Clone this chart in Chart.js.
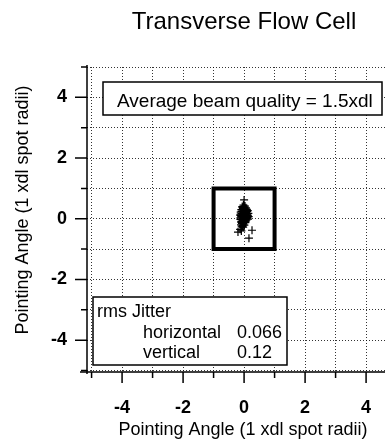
<!DOCTYPE html>
<html>
<head>
<meta charset="utf-8">
<script src="https://cdn.jsdelivr.net/npm/chart.js@4.4.0/dist/chart.umd.min.js"></script>
<style>
  html, body { margin: 0; padding: 0; background: #fff; }
</style>
</head>
<body>
<canvas id="scatter" width="385" height="440"></canvas>
<script>
// pointing jitter samples (xdl spot radii)
const jitterX = [0.00, -0.02, 0.03, -0.06, 0.01, 0.06, -0.04, -0.01,
  -0.09, 0.09, 0.00, 0.12, -0.05, 0.04, 0.02, -0.11, 0.07, -0.01, 0.14,
  -0.08, 0.03, 0.08, -0.11, -0.13, 0.10, -0.03, 0.06, 0.15, -0.10, -0.07,
  0.01, 0.11, -0.06, 0.09, 0.13, -0.12, 0.02, 0.05, -0.04, 0.06, -0.09,
  0.00, 0.04, -0.07, -0.02, -0.10, -0.05, -0.08, -0.03, -0.13, -0.20,
  -0.09, 0.26, 0.16,
  -0.05, 0.05, -0.08, 0.10, 0.00, -0.03, 0.07, -0.10, 0.12, -0.06,
  0.03, 0.08, -0.02, -0.09, 0.04, 0.11, -0.12, 0.01, -0.05, 0.06];
const jitterY = [0.62, 0.45, 0.42, 0.40, 0.38, 0.36, 0.34, 0.34,
  0.30, 0.31, 0.30, 0.27, 0.26, 0.25, 0.27, 0.22, 0.21, 0.20, 0.18,
  0.17, 0.16, 0.19, 0.15, 0.12, 0.13, 0.11, 0.09, 0.07, 0.06, 0.08,
  0.05, 0.04, 0.02, 0.01, -0.01, -0.02, -0.03, -0.01, -0.06, -0.07, -0.09,
  -0.11, -0.13, -0.15, -0.18, -0.20, -0.23, -0.27, -0.28, -0.35, -0.44,
  -0.40, -0.38, -0.64,
  0.37, 0.33, 0.24, 0.24, 0.22, 0.14, 0.13, 0.10, 0.10, -0.04,
  0.07, -0.04, 0.01, -0.12, -0.10, 0.16, 0.03, -0.21, -0.25, 0.29];

// the +/-1 spot radius frame
const frameX = [-1, -1, 1, 1, -1];
const frameY = [-1, 1, 1, -1, -1];

const tickLabels = ["-4", "-2", "0", "2", "4"];

const titleText = "Transverse Flow Cell";
const axisTitle = "Pointing Angle (1 xdl spot radii)";
const qualityText = "Average beam quality = 1.5xdl";
const jitterRows = [["horizontal", "0.066"], ["vertical", "0.12"]];

const FONT = '"Liberation Sans", Arial, sans-serif';

function evenLabel(v) {
  const s = String(Math.round(v));
  return tickLabels.includes(s) && Math.abs(v - Math.round(v)) < 1e-6 ? s : "";
}

const overlay = {
  id: "overlay",
  afterDraw(chart) {
    const ctx = chart.ctx;
    const xs = chart.scales.x, ys = chart.scales.y;
    const a = chart.chartArea;
    ctx.save();
    ctx.strokeStyle = "#000";
    ctx.fillStyle = "#000";
    ctx.lineWidth = 1.5;

    // axis lines
    ctx.beginPath();
    ctx.moveTo(a.left, a.top - 2);
    ctx.lineTo(a.left, a.bottom + 2);
    ctx.moveTo(a.left - 7, a.bottom);
    ctx.lineTo(a.right, a.bottom);
    ctx.stroke();

    // tick marks, long at labelled values
    ctx.beginPath();
    for (let v = -5; v <= 5; v++) {
      const major = v % 2 === 0;
      const px = xs.getPixelForValue(v);
      if (px >= a.left && px <= a.right) {
        ctx.moveTo(px, a.bottom);
        ctx.lineTo(px, a.bottom + (major ? 11 : 6));
      }
      const py = ys.getPixelForValue(v);
      if (py >= a.top - 1 && py <= a.bottom) {
        ctx.moveTo(a.left - (major ? 12 : 6), py);
        ctx.lineTo(a.left, py);
      }
    }
    ctx.stroke();

    // title and axis titles
    ctx.textAlign = "center";
    ctx.textBaseline = "alphabetic";
    ctx.font = "24px " + FONT;
    ctx.fillText(titleText, 244, 29);
    ctx.font = "18px " + FONT;
    ctx.fillText(axisTitle, 243, 435);
    ctx.save();
    ctx.translate(28, 210);
    ctx.rotate(-Math.PI / 2);
    ctx.fillText(axisTitle, 0, 0);
    ctx.restore();

    // beam quality box
    ctx.lineWidth = 1.5;
    ctx.fillStyle = "#fff";
    ctx.fillRect(103, 82, 279, 33);
    ctx.strokeRect(103, 82, 279, 33);
    ctx.fillStyle = "#000";
    ctx.textAlign = "left";
    ctx.font = "19px " + FONT;
    ctx.fillText(qualityText, 117, 107);

    // rms jitter box
    ctx.fillStyle = "#fff";
    ctx.fillRect(93, 297, 194, 68);
    ctx.strokeRect(93, 297, 194, 68);
    ctx.fillStyle = "#000";
    ctx.font = "18px " + FONT;
    ctx.fillText("rms Jitter", 97, 317);
    jitterRows.forEach((r, i) => {
      ctx.fillText(r[0], 143, 338 + i * 20);
      ctx.fillText(r[1], 237, 338 + i * 20);
    });
    ctx.restore();
  }
};

const gridStyle = {
  color: "rgba(0,0,0,0.8)",
  lineWidth: 1,
  drawTicks: false
};

new Chart(document.getElementById("scatter"), {
  type: "scatter",
  data: {
    datasets: [
      {
        data: jitterX.map((x, i) => ({ x: x, y: jitterY[i] })),
        pointStyle: "cross",
        pointRadius: 4,
        borderColor: "#000",
        borderWidth: 1.2
      },
      {
        data: frameX.map((x, i) => ({ x: x, y: frameY[i] })),
        showLine: true,
        pointRadius: 0,
        borderColor: "#000",
        borderWidth: 4,
        borderJoinStyle: "miter",
        borderCapStyle: "square"
      }
    ]
  },
  options: {
    responsive: false,
    animation: false,
    layout: { autoPadding: false, padding: { top: 67, left: 0, right: 0, bottom: 0 } },
    plugins: { legend: { display: false }, tooltip: { enabled: false } },
    scales: {
      x: {
        type: "linear",
        min: -5.15,
        max: 4.62,
        afterFit(scale) {
          scale.height = 68;
          scale.paddingLeft = 0;
          scale.paddingRight = 0;
        },
        border: { display: false, dash: [1, 2] },
        grid: gridStyle,
        ticks: {
          stepSize: 1,
          includeBounds: false,
          autoSkip: false,
          maxRotation: 0,
          padding: 25,
          color: "#000",
          font: { family: FONT, size: 18, weight: "bold" },
          callback: evenLabel
        }
      },
      y: {
        type: "linear",
        min: -5.05,
        max: 5,
        afterFit(scale) {
          scale.width = 87;
          scale.paddingTop = 0;
          scale.paddingBottom = 0;
        },
        border: { display: false, dash: [1, 2] },
        grid: gridStyle,
        ticks: {
          stepSize: 1,
          includeBounds: false,
          autoSkip: false,
          padding: 20,
          color: "#000",
          font: { family: FONT, size: 18, weight: "bold" },
          callback: evenLabel
        }
      }
    }
  },
  plugins: [overlay]
});
</script>
</body>
</html>
